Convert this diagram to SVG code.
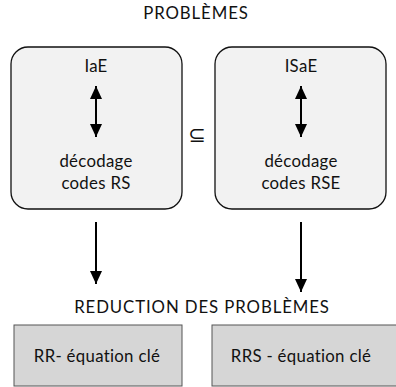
<svg xmlns="http://www.w3.org/2000/svg" width="396" height="387" viewBox="0 0 396 387">
<style>
text{font-family:Lato,"Noto Sans","Liberation Sans",sans-serif;font-size:16.8px;fill:#111;text-anchor:middle;letter-spacing:0.3px}
.hd{letter-spacing:0.9px}
.sym{font-family:"DejaVu Sans",sans-serif;font-size:21px;letter-spacing:0}
.prob{fill:#f2f2f2;stroke:#111;stroke-width:1.3}
.red{fill:#d6d6d6;stroke:#555;stroke-width:1}
.ln{stroke:#000;stroke-width:2;fill:none}
</style>
<defs>
<marker id="ah" markerWidth="13" markerHeight="12" refX="13" refY="6" orient="auto-start-reverse" markerUnits="userSpaceOnUse" viewBox="0 0 13 12"><path d="M0,0L13,6L0,12Z" fill="#000"/></marker>
</defs>
<rect width="396" height="387" fill="#fff"/>
<text class="hd" x="196" y="19">PROBLÈMES</text>
<g id="iae">
<rect class="prob" x="11" y="47" width="171" height="162" rx="17"/>
<text x="96" y="72">IaE</text>
<text x="96" y="167">décodage</text>
<text x="96" y="189">codes RS</text>
<path class="ln" d="M96,86V137" marker-start="url(#ah)" marker-end="url(#ah)"/>
</g>
<g id="isae">
<rect class="prob" x="215" y="47" width="171" height="162" rx="17"/>
<text x="301" y="72">ISaE</text>
<text x="301" y="167">décodage</text>
<text x="301" y="189">codes RSE</text>
<path class="ln" d="M301,86V137" marker-start="url(#ah)" marker-end="url(#ah)"/>
</g>
<text class="sym" x="197" y="142">⊆</text>
<text class="hd" x="202" y="313">REDUCTION DES PROBLÈMES</text>
<g id="rr">
<rect class="red" x="14" y="325" width="168" height="61"/>
<text x="97" y="362">RR- équation clé</text>
</g>
<g id="rrs">
<rect class="red" x="212" y="325" width="190" height="61"/>
<text x="301" y="362">RRS - équation clé</text>
</g>
<g id="connectors">
<path class="ln" d="M96,222V284" marker-end="url(#ah)"/>
<path class="ln" d="M301,222V292" marker-end="url(#ah)"/>
</g>
</svg>
